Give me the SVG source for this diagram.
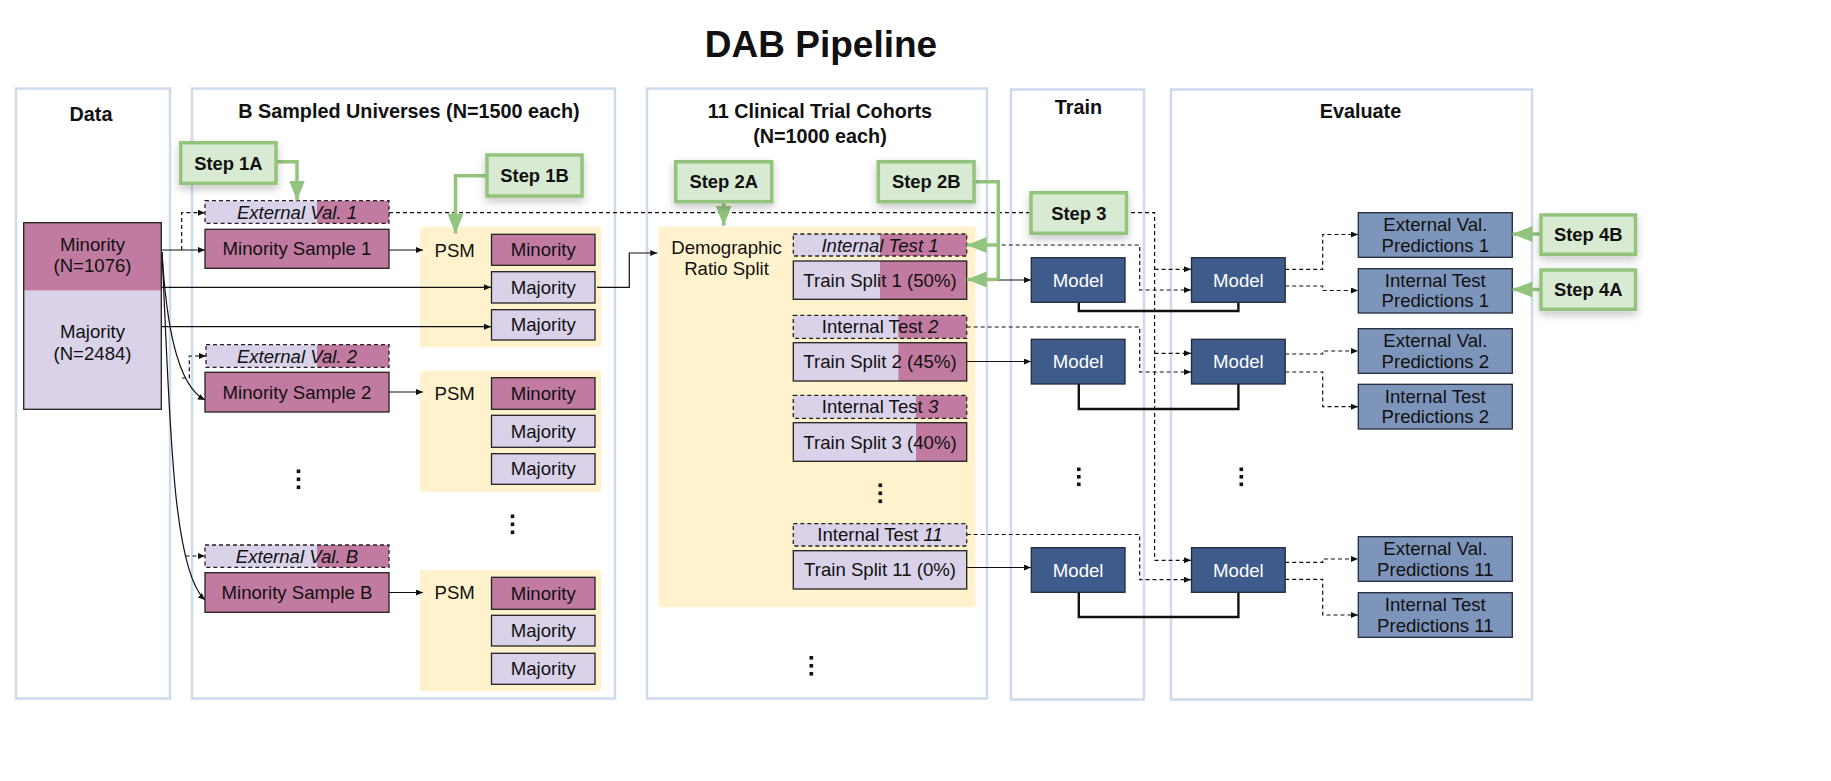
<svg xmlns="http://www.w3.org/2000/svg" width="1831" height="781" viewBox="0 0 1831 781">
<style>
text{font-family:"Liberation Sans",Arial,sans-serif;font-size:18.6px;text-anchor:middle;fill:#111}
.h{font-weight:bold;font-size:19.8px}
.title{font-weight:bold;font-size:37px}
.step{font-weight:bold;font-size:18.4px}
.it{font-style:italic}
.w{fill:#fff}
.panel{fill:#fff;stroke:#cddbee;stroke-width:2.5}
.yel{fill:#fff2cc}
.mau{fill:#c27ba0}
.lav{fill:#d9d2e9}
.box{fill:none;stroke:#222;stroke-width:1.3}
.dbox{fill:none;stroke:#222;stroke-width:1.3;stroke-dasharray:4 3}
.model{fill:#3e5b8b;stroke:#1f2a3a;stroke-width:1.3}
.pred{fill:#7d95ba;stroke:#1f2a3a;stroke-width:1.3}
.sbox{fill:#d9ead3;stroke:#93c47d;stroke-width:3.5;filter:url(#sh)}
.ln{fill:none;stroke:#111;stroke-width:1.2;marker-end:url(#ah)}
.dl{fill:none;stroke:#111;stroke-width:1.2;stroke-dasharray:4 3}
.dla{fill:none;stroke:#111;stroke-width:1.2;stroke-dasharray:4 3;marker-end:url(#ah)}
.thick{fill:none;stroke:#111;stroke-width:2.4}
.gl{fill:none;stroke:#93c47d;stroke-width:3.5}
.gla{fill:none;stroke:#93c47d;stroke-width:3.5;marker-end:url(#gah)}
.dot{fill:#111}
</style>
<defs>
<marker id="ah" markerUnits="userSpaceOnUse" markerWidth="8" markerHeight="7" refX="7" refY="3" orient="auto"><path d="M0,0 L7,3 L0,6 z" fill="#111"/></marker>
<marker id="gah" markerUnits="userSpaceOnUse" markerWidth="22" markerHeight="16" refX="20" refY="8" orient="auto"><path d="M0,0 L20,8 L0,16 z" fill="#93c47d"/></marker>
<filter id="sh" x="-30%" y="-40%" width="160%" height="190%"><feDropShadow dx="0" dy="4" stdDeviation="4" flood-color="#000" flood-opacity="0.22"/></filter>
</defs>
<rect width="1831" height="781" fill="#fff"/>
<text class="title" x="821" y="57">DAB Pipeline</text>

<g id="panels">
<rect class="panel" x="16" y="88.5" width="154" height="610"/>
<rect class="panel" x="192" y="88.5" width="423" height="610"/>
<rect class="panel" x="647" y="88.5" width="340" height="610"/>
<rect class="panel" x="1011" y="89.5" width="133" height="610"/>
<rect class="panel" x="1171" y="89.5" width="361" height="610"/>
<text class="h" x="91" y="120.5">Data</text>
<text class="h" x="409" y="118">B Sampled Universes (N=1500 each)</text>
<text class="h" x="820" y="118">11 Clinical Trial Cohorts</text>
<text class="h" x="820" y="143">(N=1000 each)</text>
<text class="h" x="1078.5" y="114">Train</text>
<text class="h" x="1360.5" y="118">Evaluate</text>
</g>

<g id="areas">
<rect class="yel" x="420" y="226.7" width="181" height="120.6"/>
<rect class="yel" x="420" y="370.7" width="181" height="121"/>
<rect class="yel" x="420" y="570" width="181" height="121"/>
<rect class="yel" x="658.3" y="226.7" width="317.2" height="380.6"/>
</g>

<g id="connectors">
<path class="ln" d="M162,250 H205"/>
<path class="dla" d="M181.7,250 V212.7 H205"/>
<path class="ln" d="M389,250 H423"/>
<path class="ln" d="M162,287.3 H491"/>
<path class="ln" d="M162,326.7 H491"/>
<path class="ln" d="M162,252 C166,320 176,385 205,400"/>
<path class="dla" d="M182,378 H189.3 V356 H206"/>
<path class="ln" d="M389,392 H423"/>
<path class="ln" d="M162,252 C170,420 172,570 205,600"/>
<path class="dla" d="M185.5,556 H205"/>
<path class="ln" d="M389,592.5 H423"/>
<path class="ln" d="M597,287.3 H629.3 V253 H657.3"/>
<path class="dl" d="M389,212.7 H1154.6 V560.3"/>
<path class="dla" d="M1154.6,560.3 H1191"/>
<path class="dla" d="M1154.6,269.3 H1191"/>
<path class="dla" d="M1154.6,353.3 H1191"/>
<path class="dla" d="M966.7,245 H1139.7 V290 H1191"/>
<path class="dla" d="M966.7,327 H1139.7 V372 H1191"/>
<path class="dla" d="M966.7,534.5 H1139.7 V579.7 H1191"/>
<path class="ln" d="M966.7,280 H1031"/>
<path class="ln" d="M966.7,361.5 H1031"/>
<path class="ln" d="M966.7,567.5 H1031"/>
<path class="thick" d="M1078.8,302.3 V311 H1238.4 V302.3"/>
<path class="thick" d="M1078.8,384 V409 H1238.4 V384"/>
<path class="thick" d="M1078.8,592.3 V617 H1238.4 V592.3"/>
<path class="dla" d="M1285.2,269.3 H1322.7 V234.5 H1358"/>
<path class="dla" d="M1285.2,286 H1322.7 V290.5 H1358"/>
<path class="dla" d="M1285.2,354 H1322.7 V351 H1358"/>
<path class="dla" d="M1285.2,372 H1322.7 V406.7 H1358"/>
<path class="dla" d="M1285.2,562.3 H1322.7 V559 H1358"/>
<path class="dla" d="M1285.2,579.3 H1322.7 V615 H1358"/>
</g>

<g id="data-minority">
<rect class="mau" x="23.7" y="222.7" width="137.6" height="68"/>
<text x="92.5" y="250.5">Minority</text>
<text x="92.5" y="271.5">(N=1076)</text>
</g>
<g id="data-majority">
<rect class="lav" x="23.7" y="290.7" width="137.6" height="118.6"/>
<text x="92.5" y="338">Majority</text>
<text x="92.5" y="359.5">(N=2484)</text>
</g>
<rect class="box" x="23.7" y="222.7" width="137.6" height="186.6"/>

<g id="extval1">
<rect class="lav" x="205" y="200.7" width="112" height="22.6"/><rect class="mau" x="317" y="200.7" width="72" height="22.6"/>
<rect class="dbox" x="205" y="200.7" width="184" height="22.6"/>
<text class="it" x="297" y="218.5">External Val. 1</text>
</g>
<g id="minsample1">
<rect class="mau" x="205" y="229.3" width="184" height="39"/><rect class="box" x="205" y="229.3" width="184" height="39"/>
<text x="297" y="255">Minority Sample 1</text>
</g>
<g id="extval2">
<rect class="lav" x="206" y="344.7" width="111" height="22.6"/><rect class="mau" x="317" y="344.7" width="72" height="22.6"/>
<rect class="dbox" x="206" y="344.7" width="183" height="22.6"/>
<text class="it" x="297" y="362.5">External Val. 2</text>
</g>
<g id="minsample2">
<rect class="mau" x="205" y="372.3" width="184" height="39.7"/><rect class="box" x="205" y="372.3" width="184" height="39.7"/>
<text x="297" y="398.5">Minority Sample 2</text>
</g>
<g id="extvalB">
<rect class="lav" x="205" y="545" width="112" height="22.3"/><rect class="mau" x="317" y="545" width="72" height="22.3"/>
<rect class="dbox" x="205" y="545" width="184" height="22.3"/>
<text class="it" x="297" y="562.5">External Val. B</text>
</g>
<g id="minsampleB">
<rect class="mau" x="205" y="572.7" width="184" height="39.6"/><rect class="box" x="205" y="572.7" width="184" height="39.6"/>
<text x="297" y="599">Minority Sample B</text>
</g>
<g id="dots-b">
<rect class="dot" x="296.7" y="469.5" width="3.6" height="3.6"/><rect class="dot" x="296.7" y="477.5" width="3.6" height="3.6"/><rect class="dot" x="296.7" y="485.5" width="3.6" height="3.6"/>
<rect class="dot" x="510.7" y="514.5" width="3.6" height="3.6"/><rect class="dot" x="510.7" y="522.5" width="3.6" height="3.6"/><rect class="dot" x="510.7" y="530.5" width="3.6" height="3.6"/>
</g>

<g id="psm1">
<text x="454.7" y="256.5">PSM</text>
<rect class="mau" x="491.5" y="234.3" width="103.5" height="31"/><rect class="box" x="491.5" y="234.3" width="103.5" height="31"/>
<text x="543.3" y="256">Minority</text>
<rect class="lav" x="491.5" y="271.7" width="103.5" height="31.3"/><rect class="box" x="491.5" y="271.7" width="103.5" height="31.3"/>
<text x="543.3" y="293.5">Majority</text>
<rect class="lav" x="491.5" y="309.7" width="103.5" height="30.3"/><rect class="box" x="491.5" y="309.7" width="103.5" height="30.3"/>
<text x="543.3" y="331">Majority</text>
</g>
<g id="psm2">
<text x="454.7" y="399.5">PSM</text>
<rect class="mau" x="491.5" y="377.7" width="103.5" height="31.6"/><rect class="box" x="491.5" y="377.7" width="103.5" height="31.6"/>
<text x="543.3" y="400">Minority</text>
<rect class="lav" x="491.5" y="415.3" width="103.5" height="32"/><rect class="box" x="491.5" y="415.3" width="103.5" height="32"/>
<text x="543.3" y="437.5">Majority</text>
<rect class="lav" x="491.5" y="453.7" width="103.5" height="30.6"/><rect class="box" x="491.5" y="453.7" width="103.5" height="30.6"/>
<text x="543.3" y="475">Majority</text>
</g>
<g id="psm3">
<text x="454.7" y="599">PSM</text>
<rect class="mau" x="491.5" y="577.3" width="103.5" height="32"/><rect class="box" x="491.5" y="577.3" width="103.5" height="32"/>
<text x="543.3" y="599.5">Minority</text>
<rect class="lav" x="491.5" y="615.3" width="103.5" height="30.7"/><rect class="box" x="491.5" y="615.3" width="103.5" height="30.7"/>
<text x="543.3" y="637">Majority</text>
<rect class="lav" x="491.5" y="653.3" width="103.5" height="31"/><rect class="box" x="491.5" y="653.3" width="103.5" height="31"/>
<text x="543.3" y="675">Majority</text>
</g>

<g id="demographic">
<text x="726.5" y="253.5">Demographic</text>
<text x="726.5" y="275">Ratio Split</text>
</g>
<g id="split1">
<rect class="lav" x="793.3" y="234" width="86.7" height="22"/><rect class="mau" x="880" y="234" width="86.7" height="22"/>
<rect class="dbox" x="793.3" y="234" width="173.4" height="22"/>
<text class="it" x="880" y="251.5">Internal Test 1</text>
<rect class="lav" x="793.3" y="261" width="86.7" height="38.3"/><rect class="mau" x="880" y="261" width="86.7" height="38.3"/>
<rect class="box" x="793.3" y="261" width="173.4" height="38.3"/>
<text x="880" y="286.5">Train Split 1 (50%)</text>
</g>
<g id="split2">
<rect class="lav" x="793.3" y="315.3" width="105" height="23"/><rect class="mau" x="898.3" y="315.3" width="68.4" height="23"/>
<rect class="dbox" x="793.3" y="315.3" width="173.4" height="23"/>
<text x="880" y="333">Internal Test <tspan class="it">2</tspan></text>
<rect class="lav" x="793.3" y="342.7" width="105" height="38.3"/><rect class="mau" x="898.3" y="342.7" width="68.4" height="38.3"/>
<rect class="box" x="793.3" y="342.7" width="173.4" height="38.3"/>
<text x="880" y="368">Train Split 2 (45%)</text>
</g>
<g id="split3">
<rect class="lav" x="793.3" y="395.3" width="122.7" height="23"/><rect class="mau" x="916" y="395.3" width="50.7" height="23"/>
<rect class="dbox" x="793.3" y="395.3" width="173.4" height="23"/>
<text x="880" y="413">Internal Test <tspan class="it">3</tspan></text>
<rect class="lav" x="793.3" y="422.7" width="122.7" height="38.6"/><rect class="mau" x="916" y="422.7" width="50.7" height="38.6"/>
<rect class="box" x="793.3" y="422.7" width="173.4" height="38.6"/>
<text x="880" y="448.5">Train Split 3 (40%)</text>
</g>
<g id="split11">
<rect class="lav" x="793.3" y="523.7" width="173.4" height="22.3"/>
<rect class="dbox" x="793.3" y="523.7" width="173.4" height="22.3"/>
<text x="880" y="541">Internal Test <tspan class="it">11</tspan></text>
<rect class="lav" x="793.3" y="550.7" width="173.4" height="38.3"/>
<rect class="box" x="793.3" y="550.7" width="173.4" height="38.3"/>
<text x="880" y="576">Train Split 11 (0%)</text>
</g>
<g id="dots-c">
<rect class="dot" x="878.5" y="483.5" width="3.6" height="3.6"/><rect class="dot" x="878.5" y="491.5" width="3.6" height="3.6"/><rect class="dot" x="878.5" y="499.5" width="3.6" height="3.6"/>
<rect class="dot" x="809.5" y="656" width="3.6" height="3.6"/><rect class="dot" x="809.5" y="664" width="3.6" height="3.6"/><rect class="dot" x="809.5" y="672" width="3.6" height="3.6"/>
</g>

<g id="model-train-1"><rect class="model" x="1031.3" y="257.7" width="93.7" height="44.6"/><text class="w" x="1078.2" y="286.5">Model</text></g>
<g id="model-train-2"><rect class="model" x="1031.3" y="339.3" width="93.7" height="44.7"/><text class="w" x="1078.2" y="368">Model</text></g>
<g id="model-train-11"><rect class="model" x="1031.3" y="547.7" width="93.7" height="44.6"/><text class="w" x="1078.2" y="576.5">Model</text></g>
<g id="model-eval-1"><rect class="model" x="1191.5" y="257.7" width="93.7" height="44.6"/><text class="w" x="1238.4" y="286.5">Model</text></g>
<g id="model-eval-2"><rect class="model" x="1191.5" y="339.3" width="93.7" height="44.7"/><text class="w" x="1238.4" y="368">Model</text></g>
<g id="model-eval-11"><rect class="model" x="1191.5" y="547.7" width="93.7" height="44.6"/><text class="w" x="1238.4" y="576.5">Model</text></g>
<g id="dots-te">
<rect class="dot" x="1077" y="467.5" width="3.6" height="3.6"/><rect class="dot" x="1077" y="475" width="3.6" height="3.6"/><rect class="dot" x="1077" y="482.5" width="3.6" height="3.6"/>
<rect class="dot" x="1239.5" y="467.5" width="3.6" height="3.6"/><rect class="dot" x="1239.5" y="475" width="3.6" height="3.6"/><rect class="dot" x="1239.5" y="482.5" width="3.6" height="3.6"/>
</g>

<g id="pred-ext-1"><rect class="pred" x="1358.3" y="212.7" width="154" height="44.6"/><text x="1435.3" y="231">External Val.</text><text x="1435.3" y="251.5">Predictions 1</text></g>
<g id="pred-int-1"><rect class="pred" x="1358.3" y="268.7" width="154" height="44.3"/><text x="1435.3" y="286.8">Internal Test</text><text x="1435.3" y="307.3">Predictions 1</text></g>
<g id="pred-ext-2"><rect class="pred" x="1358.3" y="328.7" width="154" height="44.6"/><text x="1435.3" y="347">External Val.</text><text x="1435.3" y="367.5">Predictions 2</text></g>
<g id="pred-int-2"><rect class="pred" x="1358.3" y="384.3" width="154" height="44.7"/><text x="1435.3" y="402.7">Internal Test</text><text x="1435.3" y="423.2">Predictions 2</text></g>
<g id="pred-ext-11"><rect class="pred" x="1358.3" y="536.7" width="154" height="44.6"/><text x="1435.3" y="555">External Val.</text><text x="1435.3" y="575.5">Predictions 11</text></g>
<g id="pred-int-11"><rect class="pred" x="1358.3" y="592.7" width="154" height="44.6"/><text x="1435.3" y="611">Internal Test</text><text x="1435.3" y="631.5">Predictions 11</text></g>

<g id="step-arrows">
<path class="gla" d="M276,161.7 H297 V200.5"/>
<path class="gla" d="M487,175.7 H455.5 V233.5"/>
<path class="gla" d="M723.7,201.7 V225.7"/>
<path class="gl" d="M974,181.7 H998.3 V279.5"/>
<path class="gla" d="M998.3,245 H966.7"/>
<path class="gla" d="M998.3,279.5 H966.7"/>
<path class="gla" d="M1541,234 H1512.5"/>
<path class="gla" d="M1541,289.5 H1512.5"/>
</g>
<g id="step-1a"><rect class="sbox" x="180.7" y="142.7" width="95.3" height="40.6"/><text class="step" x="228.4" y="169.5">Step 1A</text></g>
<g id="step-1b"><rect class="sbox" x="487" y="155" width="95" height="41"/><text class="step" x="534.5" y="182">Step 1B</text></g>
<g id="step-2a"><rect class="sbox" x="675.7" y="161.7" width="96" height="40"/><text class="step" x="723.7" y="188">Step 2A</text></g>
<g id="step-2b"><rect class="sbox" x="878.3" y="161.7" width="95.7" height="40"/><text class="step" x="926.2" y="188">Step 2B</text></g>
<g id="step-3"><rect class="sbox" x="1031" y="192.7" width="95.5" height="40.6"/><text class="step" x="1078.8" y="219.5">Step 3</text></g>
<g id="step-4b"><rect class="sbox" x="1541" y="215" width="94.5" height="39.3"/><text class="step" x="1588.2" y="241">Step 4B</text></g>
<g id="step-4a"><rect class="sbox" x="1541" y="270" width="94.5" height="39.3"/><text class="step" x="1588.2" y="296">Step 4A</text></g>
</svg>
